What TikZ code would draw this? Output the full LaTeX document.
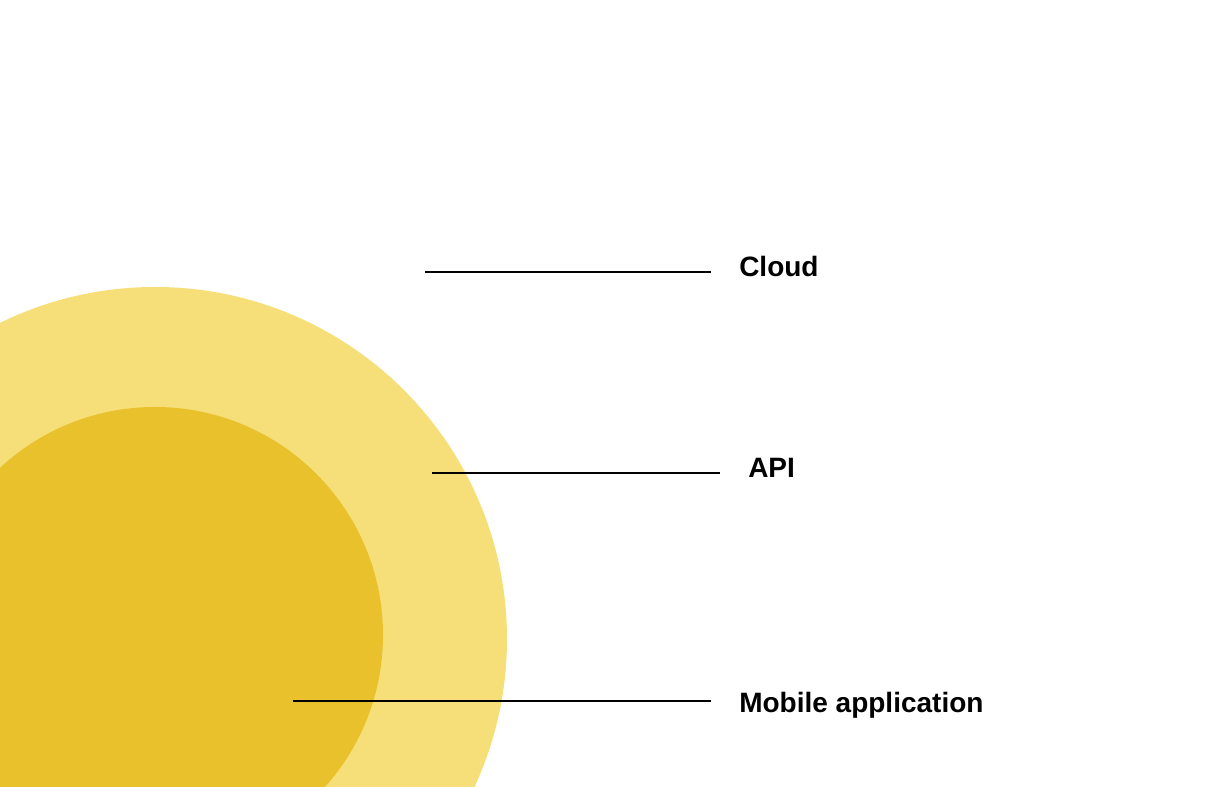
\documentclass[tikz,border=0pt]{standalone}
\usepackage{fontspec}
\setmainfont{Liberation Sans}
\usetikzlibrary{positioning}
\definecolor{outeryellow}{HTML}{F6DF78}
\definecolor{inneryellow}{HTML}{E8C12C}

\begin{document}
\begin{tikzpicture}[x=0.75pt, y=0.75pt]
    % Define styles
    \tikzstyle{layer label}=[anchor=base west, inner xsep=21pt, inner ysep=0pt, font=\fontsize{21}{25}\selectfont\bfseries]
    \tikzstyle{leader} = [draw=black, line width=1.3pt]

    \useasboundingbox (0,0) rectangle (1210,787);

    % Draw the layers
    \begin{scope}
        \clip (0,0) rectangle (1210,787);
        \fill[outeryellow] (155,148) circle [radius=352];
        \fill[inneryellow] (155,152) circle [radius=228];
    \end{scope}

    % Draw the labels and their leaders
    \foreach \name/\lbl/\xs/\xe/\yl/\yb in {cloud/Cloud/425/711/515/510, api/API/432/720/314/309, mobile/Mobile application/293/711/86/74} {
        \coordinate (\name-start) at (\xs,\yl);
        \node[layer label] (\name) at (\xe,\yb) {\lbl};
        \draw[leader] (\name-start) -- (\name-start -| \name.west);
    }
\end{tikzpicture}
\end{document}
